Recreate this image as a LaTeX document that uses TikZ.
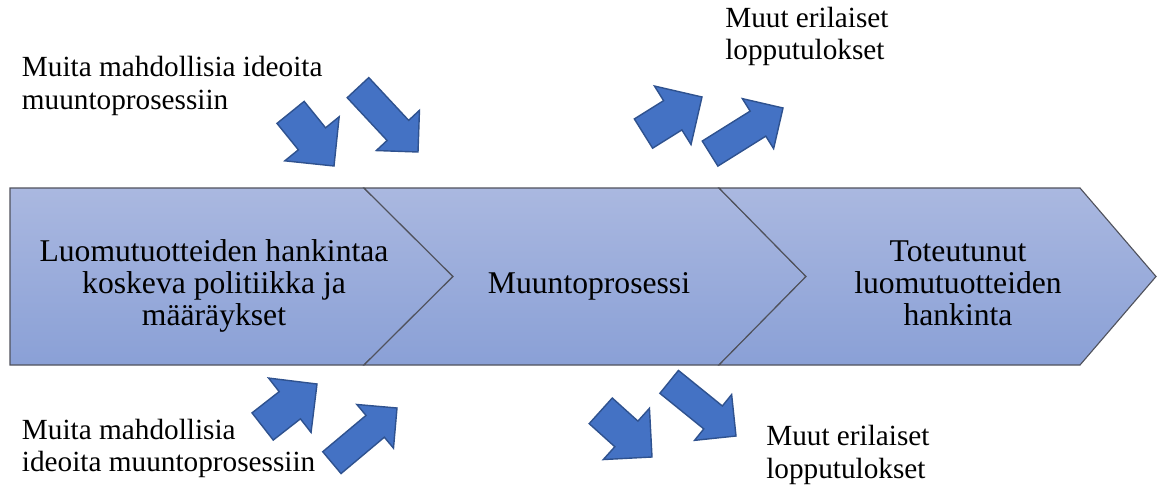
\documentclass[tikz,border=0pt]{standalone}
\usepackage{fontspec}
\setmainfont{Liberation Serif}

\definecolor{chevtop}{RGB}{170,184,224}
\definecolor{chevbot}{RGB}{138,160,214}
\definecolor{chevline}{RGB}{80,82,92}
\definecolor{arrowfill}{RGB}{68,114,196}
\definecolor{arrowline}{RGB}{47,82,143}

\tikzset{
  chevron/.style={draw=chevline, line width=0.8pt, top color=chevtop, bottom color=chevbot},
  chevtext/.style={align=center, inner sep=0pt, anchor=base, font=\fontsize{22.5}{22.5}\selectfont},
  sidetext/.style={align=left, inner sep=0pt, anchor=base west, font=\fontsize{20.8}{23.1}\selectfont},
  arrowshape/.style={fill=arrowfill, draw=arrowline, line width=1pt, line join=miter},
  pics/fatarrow/.style 2 args={code={
    \draw[arrowshape] (0,0) -- (-#2/2,#2/2) -- (-#2/2,#2/4) -- (-#1,#2/4)
      -- (-#1,-#2/4) -- (-#2/2,-#2/4) -- (-#2/2,-#2/2) -- cycle;
  }}
}

\begin{document}
\begin{tikzpicture}[x=0.025cm,y=-0.025cm]
  \useasboundingbox (0,0) rectangle (1157,486);

  % the three steps
  \draw[chevron] (10,188) -- (364,188) -- (453,276.5) -- (364,365) -- (10,365) -- cycle;
  \draw[chevron] (364,188) -- (719,188) -- (806,276.5) -- (719,365) -- (364,365) -- (453,276.5) -- cycle;
  \draw[chevron] (719,188) -- (1080,188) -- (1156,276.5) -- (1080,365) -- (719,365) -- (806,276.5) -- cycle;

  % base anchor sits on the last line
  \node[chevtext] (policy) at (214,325) {Luomutuotteiden hankintaa\\koskeva politiikka ja\\määräykset};
  \node[chevtext] (process) at (589,293.3) {Muuntoprosessi};
  \node[chevtext] (result) at (958,325) {Toteutunut\\luomutuotteiden\\hankinta};

  % inputs
  \pic[rotate=-51] at (334,166) {fatarrow={69}{70}};
  \pic[rotate=-47] at (418,152) {fatarrow={88}{59}};
  \pic[rotate=38] at (317,384) {fatarrow={69}{69}};
  \pic[rotate=40] at (397,408) {fatarrow={85}{57}};

  % outputs
  \pic[rotate=32] at (702,97) {fatarrow={69}{69}};
  \pic[rotate=32] at (783,108) {fatarrow={86}{59}};
  \pic[rotate=-42] at (652,457) {fatarrow={69}{69}};
  \pic[rotate=-39] at (736,436) {fatarrow={86}{59}};

  \node[sidetext] (ideastop) at (21.7,109.3) {Muita mahdollisia ideoita\\muuntoprosessiin};
  \node[sidetext] (ideasbottom) at (21.7,471.7) {Muita mahdollisia\\ideoita muuntoprosessiin};
  \node[sidetext] (resultstop) at (725,60) {Muut erilaiset\\lopputulokset};
  \node[sidetext] (resultsbottom) at (766,478) {Muut erilaiset\\lopputulokset};
\end{tikzpicture}
\end{document}
